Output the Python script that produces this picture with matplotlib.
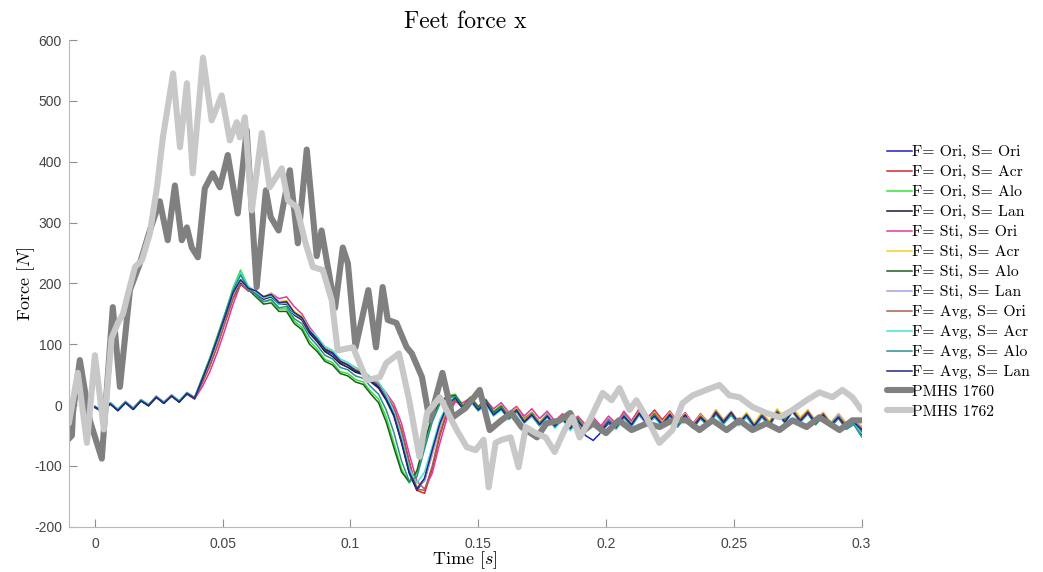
import matplotlib
matplotlib.use("Agg")
import matplotlib.pyplot as plt
import numpy as np

# Simulation time base (s) and feet force x (N) for each F/S combination
t_sim = np.arange(101) * 0.003

f_ori_s_ori = [-3, -10, 3, -8, 5, -6, 8, 0, 14, 4, 16, 6, 20, 12,
               42, 72, 108, 145, 182, 205,
               190, 186, 176, 182, 168, 170, 150, 142, 120, 108, 90, 84, 70, 66, 56, 53, 40, 32, 12,
               -12, -55, -105, -136, -124, -80, -35, -2, 12,
               -4, 9, -6, 5, -14, -4, -20, -8, -26, -16, -30, -18, -34, -22, -40, -30, -50, -58, -45, -30,
               -38, -20, -34, -16, -32, -20, -34, -15, -30, -18, -34, -16, -30, -10, -26, -12, -30, -14,
               -34, -16, -30, -10, -26, -8, -24, -10, -28, -14, -30, -18, -32, -28, -48]
f_ori_s_acr = [-2, -9, 4, -7, 6, -5, 9, 1, 13, 5, 15, 7, 19, 11,
               38, 66, 100, 138, 176, 200,
               188, 184, 178, 180, 170, 168, 152, 144, 124, 110, 94, 86, 72, 66, 58, 52, 42, 34, 16,
               -5, -40, -92, -140, -145, -105, -50, -10, 8,
               -2, 10, -4, 6, -10, -2, -16, -6, -22, -12, -28, -16, -32, -20, -34, -22, -36, -24, -38, -22,
               -34, -14, -26, -6, -22, -8, -24, -10, -28, -14, -32, -16, -30, -10, -26, -14, -32, -18,
               -40, -20, -34, -12, -28, -6, -24, -10, -30, -14, -32, -16, -30, -22, -38]
f_ori_s_alo = [-3, -10, 2, -8, 5, -7, 8, -1, 14, 3, 16, 5, 20, 12,
               45, 78, 115, 152, 192, 222,
               195, 182, 170, 172, 158, 158, 138, 128, 105, 92, 75, 70, 55, 52, 42, 38, 22, 10, -20,
               -62, -105, -128, -112, -65, -22, 5, 15, 18,
               0, 14, -2, 10, -10, 0, -18, -6, -24, -12, -28, -14, -32, -18, -34, -20, -38, -24, -40, -22,
               -36, -14, -30, -10, -26, -12, -30, -14, -32, -18, -36, -20, -32, -12, -28, -14, -30, -16,
               -32, -14, -28, -8, -22, -6, -24, -12, -30, -16, -34, -18, -36, -26, -36]
f_ori_s_lan = [-4, -11, 2, -9, 4, -7, 7, -1, 13, 3, 15, 5, 19, 11,
               40, 70, 106, 142, 180, 200,
               188, 184, 174, 178, 166, 166, 148, 140, 118, 104, 88, 80, 68, 62, 54, 50, 38, 28, 8,
               -18, -62, -112, -140, -122, -76, -32, 0, 10,
               -6, 6, -8, 4, -16, -6, -22, -10, -28, -18, -34, -20, -36, -24, -38, -26, -40, -28, -42, -26,
               -36, -18, -32, -14, -30, -18, -32, -16, -34, -18, -36, -20, -32, -14, -28, -14, -30, -16,
               -34, -18, -32, -12, -28, -10, -26, -12, -30, -16, -32, -20, -36, -30, -44]
f_sti_s_ori = [-3, -9, 3, -7, 5, -5, 8, 1, 13, 5, 15, 7, 18, 10,
               30, 55, 88, 125, 165, 198,
               192, 186, 178, 184, 175, 178, 162, 150, 128, 112, 96, 88, 74, 68, 58, 54, 44, 36, 20,
               2, -30, -80, -125, -138, -112, -62, -18, 5,
               4, 12, -2, 8, -6, 4, -12, -2, -18, -6, -22, -10, -26, -14, -30, -18, -32, -20, -34, -18,
               -30, -10, -26, -8, -24, -10, -26, -10, -28, -12, -30, -14, -28, -8, -24, -10, -28, -14,
               -32, -14, -28, -8, -24, -4, -22, -8, -26, -12, -30, -14, -30, -24, -38]
f_sti_s_acr = [-3, -10, 3, -8, 5, -6, 8, 0, 14, 4, 16, 6, 20, 12,
               40, 70, 104, 142, 180, 206,
               192, 188, 178, 184, 170, 172, 154, 146, 124, 112, 94, 88, 74, 68, 60, 56, 44, 36, 18,
               -6, -48, -100, -135, -122, -82, -36, -4, 10,
               -2, 10, -4, 6, -12, -2, -18, -6, -24, -14, -28, -16, -32, -20, -34, -22, -38, -26, -40, -24,
               -34, -16, -30, -10, -26, -12, -28, -12, -30, -14, -32, -16, -28, -8, -24, -10, -28, -12,
               -30, -12, -26, -6, -22, -4, -20, -8, -26, -12, -28, -14, -30, -22, -34]
f_sti_s_alo = [-4, -11, 2, -9, 4, -7, 7, -1, 13, 3, 15, 5, 19, 11,
               44, 76, 112, 150, 188, 215,
               190, 178, 166, 168, 154, 154, 134, 124, 100, 88, 72, 66, 52, 48, 38, 34, 18, 4, -28,
               -70, -110, -126, -108, -60, -18, 6, 14, 16,
               -2, 12, -4, 8, -12, -2, -20, -8, -26, -14, -30, -16, -34, -20, -36, -22, -40, -26, -42, -24,
               -38, -16, -32, -12, -28, -14, -32, -16, -34, -20, -38, -22, -34, -14, -30, -16, -32, -18,
               -34, -16, -30, -10, -24, -8, -26, -14, -32, -18, -36, -20, -38, -28, -40]
f_sti_s_lan = [-2, -9, 4, -7, 6, -5, 9, 1, 15, 5, 17, 7, 21, 13,
               42, 72, 106, 144, 182, 204,
               190, 186, 178, 182, 170, 170, 152, 144, 122, 110, 92, 86, 72, 66, 58, 54, 42, 34, 14,
               -10, -52, -104, -137, -124, -80, -34, -2, 12,
               -6, 8, -8, 2, -16, -6, -22, -8, -26, -14, -30, -16, -32, -20, -36, -24, -38, -26, -40, -22,
               -34, -16, -30, -12, -28, -14, -30, -14, -32, -16, -34, -18, -30, -10, -26, -12, -28, -14,
               -32, -16, -30, -10, -26, -8, -24, -10, -28, -14, -30, -16, -32, -24, -40]
f_avg_s_ori = [-3, -10, 3, -8, 5, -6, 8, 0, 13, 4, 15, 6, 18, 10,
               36, 64, 98, 136, 174, 198,
               188, 184, 176, 180, 168, 168, 150, 142, 122, 108, 92, 86, 72, 66, 58, 54, 42, 34, 16,
               -4, -42, -95, -138, -140, -100, -46, -8, 8,
               -4, 8, -6, 4, -14, -4, -20, -8, -26, -14, -30, -18, -34, -22, -36, -24, -38, -26, -40, -24,
               -36, -18, -32, -12, -28, -14, -30, -14, -32, -16, -34, -18, -30, -10, -26, -12, -30, -16,
               -34, -16, -30, -10, -26, -8, -24, -10, -28, -14, -32, -18, -34, -26, -42]
f_avg_s_acr = [-2, -9, 4, -7, 6, -5, 9, 1, 14, 5, 16, 7, 20, 12,
               44, 76, 112, 150, 190, 218,
               196, 186, 176, 180, 166, 168, 150, 144, 124, 112, 96, 90, 76, 70, 62, 56, 46, 38, 18,
               -12, -55, -104, -128, -110, -68, -24, 2, 14,
               -6, 6, -10, 0, -18, -8, -24, -12, -30, -18, -34, -20, -38, -24, -42, -28, -44, -30, -46, -28,
               -40, -22, -36, -16, -32, -20, -36, -18, -36, -20, -38, -22, -34, -16, -32, -16, -34, -20,
               -38, -20, -34, -14, -30, -12, -28, -14, -32, -18, -36, -20, -38, -30, -46]
f_avg_s_alo = [-3, -10, 3, -8, 5, -6, 8, 0, 14, 4, 16, 6, 20, 12,
               44, 76, 112, 150, 188, 214,
               192, 182, 170, 174, 160, 162, 142, 134, 112, 98, 82, 76, 62, 58, 48, 44, 30, 18, -8,
               -45, -92, -125, -118, -72, -28, 2, 12, 14,
               -4, 10, -6, 6, -14, -4, -22, -10, -28, -16, -32, -18, -36, -22, -38, -24, -42, -28, -44, -26,
               -38, -20, -34, -14, -30, -16, -34, -18, -36, -20, -38, -22, -34, -14, -30, -16, -32, -18,
               -36, -18, -32, -12, -28, -10, -28, -14, -32, -18, -36, -22, -40, -32, -52]
f_avg_s_lan = [-3, -11, 2, -9, 4, -7, 7, -1, 13, 3, 15, 5, 19, 11,
               42, 74, 110, 146, 184, 206,
               192, 188, 178, 182, 168, 170, 152, 144, 122, 108, 92, 86, 72, 66, 56, 52, 40, 30, 10,
               -16, -60, -110, -138, -120, -74, -30, 0, 12,
               -6, 8, -8, 4, -16, -6, -22, -8, -28, -16, -32, -18, -34, -22, -38, -26, -42, -30, -44, -28,
               -36, -18, -32, -14, -30, -18, -32, -16, -32, -16, -36, -20, -32, -12, -28, -12, -30, -16,
               -34, -18, -32, -12, -28, -10, -26, -12, -30, -16, -32, -20, -36, -28, -40]

# PMHS test measurements
t_1760 = [-0.0106, -0.0090, -0.0086, -0.0059, -0.0020, 0.0027, 0.0070, 0.0098, 0.0137, 0.0176,
          0.0215, 0.0254, 0.0285, 0.0313, 0.0340, 0.0360, 0.0379, 0.0403, 0.0430, 0.0461,
          0.0489, 0.0520, 0.0559, 0.0594, 0.0633, 0.0669, 0.0688, 0.0719, 0.0763, 0.0794,
          0.0829, 0.0868, 0.0887, 0.0907, 0.0940, 0.0970, 0.0990, 0.1020, 0.1070, 0.1100,
          0.1126, 0.1146, 0.1180, 0.1220, 0.1240, 0.1280, 0.1310, 0.1360, 0.1400, 0.1450,
          0.1506, 0.1545, 0.1590, 0.1630, 0.1670, 0.1730, 0.1767, 0.1820, 0.1860, 0.1900,
          0.1950, 0.2000, 0.2050, 0.2100, 0.2160, 0.2210, 0.2260, 0.2315, 0.2366, 0.2417,
          0.2472, 0.2522, 0.2573, 0.2628, 0.2679, 0.2730, 0.2785, 0.2835, 0.2914, 0.2964, 0.3000]
f_1760 = [-57, -50, -13, 74, -25, -88, 161, 30, 189, 233,
          287, 335, 271, 361, 271, 292, 259, 243, 356, 381,
          358, 411, 315, 452, 194, 353, 309, 287, 386, 266,
          420, 245, 287, 238, 160, 259, 233, 95, 189, 95,
          194, 140, 135, 95, 85, 46, -25, 53, -20, -5,
          25, -41, -25, -13, -36, -53, -30, -25, -13, -46,
          -30, -46, -25, -41, -30, -36, -25, -25, -41, -25,
          -41, -25, -41, -30, -41, -25, -36, -20, -41, -25, -25]

t_1762 = [-0.0102, -0.0067, -0.0031, 0.0000, 0.0035, 0.0065, 0.0090, 0.0110, 0.0130, 0.0157,
          0.0184, 0.0215, 0.0243, 0.0266, 0.0306, 0.0333, 0.0360, 0.0383, 0.0423, 0.0457,
          0.0496, 0.0528, 0.0555, 0.0567, 0.0587, 0.0614, 0.0653, 0.0684, 0.0731, 0.0755,
          0.0790, 0.0821, 0.0853, 0.0892, 0.0927, 0.0950, 0.1010, 0.1064, 0.1115, 0.1140,
          0.1190, 0.1230, 0.1270, 0.1300, 0.1350, 0.1416, 0.1455, 0.1490, 0.1521, 0.1541,
          0.1568, 0.1592, 0.1627, 0.1658, 0.1686, 0.1725, 0.1764, 0.1799, 0.1838, 0.1869,
          0.1897, 0.1936, 0.1987, 0.2022, 0.2053, 0.2092, 0.2119, 0.2158, 0.2209, 0.2260,
          0.2299, 0.2339, 0.2393, 0.2444, 0.2483, 0.2522, 0.2573, 0.2628, 0.2679, 0.2730,
          0.2785, 0.2835, 0.2886, 0.2925, 0.2964, 0.3000]
f_1762 = [-30, 53, -62, 82, -40, 110, 135, 150, 184, 227,
          238, 282, 358, 440, 545, 424, 529, 381, 571, 468,
          509, 435, 465, 440, 473, 320, 447, 358, 389, 337,
          325, 271, 227, 222, 172, 90, 95, 41, 46, 69,
          85, 8, -85, -13, 13, -41, -69, -74, -57, -135,
          -62, -57, -53, -102, -36, -46, -53, -77, -41, -20,
          -53, -25, 20, 8, 28, -8, 8, -20, -62, -41,
          3, 16, 25, 33, 16, 13, -3, -13, -20, -8,
          8, 21, 13, 25, 13, -8]

sim_labels = ["F= Ori, S= Ori", "F= Ori, S= Acr", "F= Ori, S= Alo", "F= Ori, S= Lan",
              "F= Sti, S= Ori", "F= Sti, S= Acr", "F= Sti, S= Alo", "F= Sti, S= Lan",
              "F= Avg, S= Ori", "F= Avg, S= Acr", "F= Avg, S= Alo", "F= Avg, S= Lan"]
sim_data = [f_ori_s_ori, f_ori_s_acr, f_ori_s_alo, f_ori_s_lan,
            f_sti_s_ori, f_sti_s_acr, f_sti_s_alo, f_sti_s_lan,
            f_avg_s_ori, f_avg_s_acr, f_avg_s_alo, f_avg_s_lan]
sim_colors = ["#1f1fc0", "#d42a2a", "#35e035", "#1a1a3a",
              "#e0399e", "#f2d21c", "#1b5e1b", "#a0a0ea",
              "#a3604f", "#42e6d6", "#2a9090", "#262685"]

x_ticks = [0, 0.05, 0.1, 0.15, 0.2, 0.25, 0.3]
x_tick_labels = ["0", "0.05", "0.1", "0.15", "0.2", "0.25", "0.3"]
y_ticks = [-200, -100, 0, 100, 200, 300, 400, 500, 600]

plt.rcParams['font.family'] = 'Liberation Sans'
plt.rcParams['mathtext.fontset'] = 'cm'
plt.rcParams['axes.unicode_minus'] = False
serif = 'cmr10'

fig = plt.figure(figsize=(10.43, 5.72), dpi=100)
ax = fig.add_axes([0.066, 0.079, 0.760, 0.851])

for vals, lab, col in zip(sim_data, sim_labels, sim_colors):
    ax.plot(t_sim, vals, color=col, lw=1.1, label=lab, solid_joinstyle='round')

# test curves drawn last so they sit on top
ax.plot(t_1760, f_1760, color='#808080', lw=4.4, label='PMHS 1760',
        solid_joinstyle='round', solid_capstyle='round')
ax.plot(t_1762, f_1762, color='#c8c8c8', lw=4.4, label='PMHS 1762',
        solid_joinstyle='round', solid_capstyle='round')

ax.set_xlim(-0.0102, 0.3)
ax.set_ylim(-200, 600)
ax.set_xticks(x_ticks)
ax.set_xticklabels(x_tick_labels)
ax.set_yticks(y_ticks)

for s in ['top', 'right']:
    ax.spines[s].set_visible(False)
for s in ['left', 'bottom']:
    ax.spines[s].set_color('#b8b8b8')
ax.tick_params(direction='in', length=6, width=0.8, color='#909090',
               labelcolor='#444444', labelsize=10)
ax.tick_params(axis='x', pad=7)
ax.tick_params(axis='y', pad=5)

ax.set_title('Feet force x', fontfamily=serif, fontsize=17, pad=9)
ax.set_xlabel('Time [$s$]', fontfamily=serif, fontsize=13, labelpad=-1)
ax.set_ylabel('Force [$N$]', fontfamily=serif, fontsize=13, labelpad=-2)

ax.legend(loc='center left', bbox_to_anchor=(0.850, 0.507), bbox_transform=fig.transFigure,
          frameon=False, prop={'family': serif, 'size': 11.3}, handlelength=1.6,
          handletextpad=0.05, labelspacing=0.38, borderpad=0, borderaxespad=0)

fig.savefig('out.png', dpi=100)
